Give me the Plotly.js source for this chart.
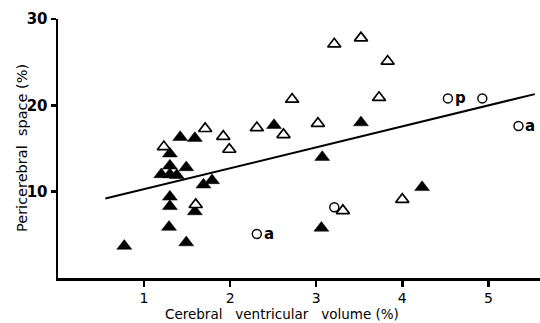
<!DOCTYPE html>
<html>
<head>
<meta charset="utf-8">
<script src="https://cdn.plot.ly/plotly-3.0.1.min.js"></script>
<style>html,body{margin:0;padding:0;background:#fff;}#chart{width:540px;height:323px;}</style>
</head>
<body>
<div id="chart"></div>
<script>
// Filled triangles
var filledX = [0.77, 1.29, 1.49, 1.30, 1.30, 1.59, 1.69, 1.79, 1.20, 1.30, 1.38, 1.30, 1.49, 1.30, 1.42, 1.59, 2.51, 3.52, 3.07, 4.23, 3.06];
var filledY = [3.7, 5.9, 4.1, 8.3, 9.4, 7.7, 10.8, 11.3, 12.0, 12.0, 11.9, 13.0, 12.8, 14.4, 16.3, 16.2, 17.7, 18.0, 14.0, 10.5, 5.8];
// Open triangles
var openX = [1.23, 1.71, 1.92, 1.99, 1.60, 2.31, 2.62, 2.72, 3.02, 3.21, 3.52, 3.83, 3.73, 3.31, 4.00];
var openY = [15.2, 17.3, 16.4, 14.9, 8.5, 17.4, 16.6, 20.7, 17.9, 27.1, 27.8, 25.1, 20.9, 7.8, 9.1];
// Open circles
var circleX = [2.31, 3.21, 4.53, 4.93, 5.35];
var circleY = [5.1, 8.2, 20.8, 20.8, 17.6];
var circleLabels = ["a", "", "p", "", "a"];
// Regression line end points
var lineX = [0.55, 5.54];
var lineY = [9.2, 21.3];
var xTicks = [1, 2, 3, 4, 5];
var yTicks = [10, 20, 30];
var xTitle = "Cerebral&nbsp;&nbsp; ventricular&nbsp;&nbsp; volume (%)";
var yTitle = "Pericerebral&nbsp; space (%)";

var fontFam = "DejaVu Sans, sans-serif";

var traces = [
  {x: lineX, y: lineY, mode: "lines", type: "scatter", line: {color: "#000", width: 2}, hoverinfo: "skip"},
  {x: filledX, y: filledY, mode: "markers", type: "scatter",
   marker: {symbol: "triangle-up", size: 13, color: "#000", line: {color: "#000", width: 0.5}}},
  {x: openX, y: openY, mode: "markers", type: "scatter",
   marker: {symbol: "triangle-up", size: 11.5, color: "#fff", line: {color: "#000", width: 1.7}}},
  {x: circleX, y: circleY, mode: "markers", type: "scatter",
   marker: {symbol: "circle", size: 9, color: "#fff", line: {color: "#000", width: 1.4}}}
];

var annotations = [];
for (var i = 0; i < circleX.length; i++) {
  if (circleLabels[i]) {
    annotations.push({x: circleX[i], y: circleY[i], xref: "x", yref: "y", text: "<b>" + circleLabels[i] + "</b>",
      showarrow: false, xanchor: "left", yanchor: "middle", xshift: 5, yshift: 0,
      font: {family: fontFam, size: 15, color: "#000"}});
  }
}
// axis titles placed as in the reference
var plotL = 58, plotR = 540, plotT = 19, plotB = 278;
annotations.push({x: (282 - plotL) / (plotR - plotL), y: -(314 - plotB) / (plotB - plotT), xref: "paper", yref: "paper",
  xanchor: "center", yanchor: "middle", text: xTitle,
  showarrow: false, font: {family: fontFam, size: 13.5, color: "#000"}});
annotations.push({x: (22 - plotL) / (plotR - plotL), y: (plotB - 148) / (plotB - plotT), xref: "paper", yref: "paper",
  xanchor: "center", yanchor: "middle", textangle: -90, text: yTitle,
  showarrow: false, font: {family: fontFam, size: 14.5, color: "#000"}});

var layout = {
  width: 540, height: 323,
  margin: {l: plotL, r: 540 - plotR, t: plotT, b: 323 - plotB, pad: 0},
  paper_bgcolor: "#fff", plot_bgcolor: "#fff",
  showlegend: false,
  xaxis: {range: [0, 5.6], tickvals: xTicks, ticktext: xTicks.map(String), ticks: "outside", ticklen: 6, tickwidth: 2.5,
    tickcolor: "#000", showline: true, linecolor: "#000", linewidth: 2.5, showgrid: false, zeroline: false,
    tickfont: {family: fontFam, size: 14, color: "#000"}},
  yaxis: {range: [0, 30], tickvals: yTicks, ticktext: yTicks.map(String), ticks: "outside", ticklen: 5, tickwidth: 2.5,
    tickcolor: "#000", showline: true, linecolor: "#000", linewidth: 2.5, showgrid: false, zeroline: false,
    tickfont: {family: fontFam, size: 15, color: "#000", weight: "bold"}},
  annotations: annotations
};

Plotly.newPlot("chart", traces, layout, {displayModeBar: false, staticPlot: true});
</script>
</body>
</html>
